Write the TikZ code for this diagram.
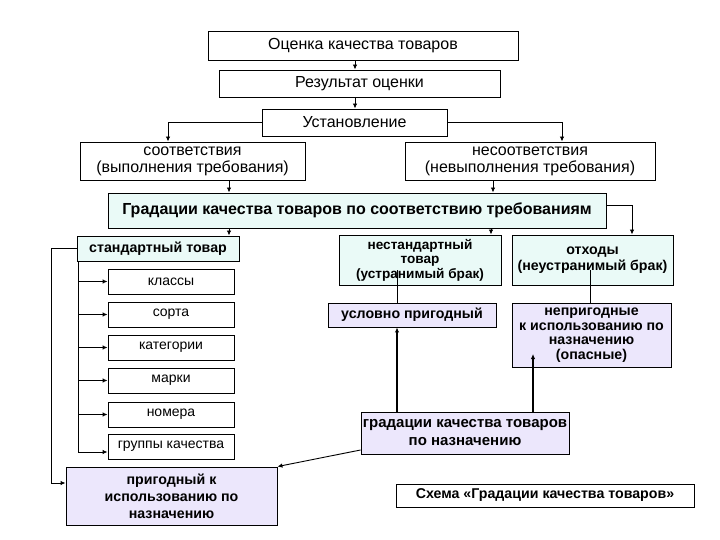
\documentclass[tikz,border=0pt]{standalone}
\usepackage{fontspec}
\setmainfont{Liberation Sans}
\usetikzlibrary{arrows.meta}
\definecolor{cyanfill}{RGB}{234,250,247}
\definecolor{lavfill}{RGB}{236,231,252}
\begin{document}
\begin{tikzpicture}[x=1pt,y=-1pt,
  box/.style={draw=black, line width=0.9pt, inner sep=1pt, align=center,
    font=\fontsize{16}{17}\selectfont},
  sbox/.style={box, font=\fontsize{14}{15}\selectfont},
  cbox/.style={box, fill=cyanfill, font=\fontsize{14.2}{15}\selectfont\bfseries},
  lbox/.style={box, fill=lavfill, font=\fontsize{14.2}{15}\selectfont\bfseries},
  sz/.style 2 args={minimum width=#1pt, minimum height=#2pt},
  arr/.style={line width=0.9pt, -{Latex[length=5pt,width=4.5pt]}},
  thk/.style={line width=1.5pt, -{Latex[length=5pt,width=4.5pt]}},
  ln/.style={line width=0.8pt}]
\useasboundingbox (0,0) rectangle (720,540);
% top chain
\node[box, sz={310}{29}] (ocenka) at (363,45.5) {Оценка качества товаров};
\node[box, sz={281}{27}] (rezult) at (359.5,83.5) {Результат оценки};
\node[box, sz={185}{27}] (ustan) at (354.5,122.5) {Установление};
\node[box, sz={225}{38}] (sootv) at (192.5,161) {соответствия\\(выполнения требования)};
\node[box, sz={250}{38}] (nesootv) at (530,161) {несоответствия\\(невыполнения требования)};
\node[cbox, sz={498}{35}, font=\fontsize{16}{17}\selectfont\bfseries] (grad) at (357,210.5) {Градации качества товаров по соответствию требованиям};
% standard branch
\node[cbox, sz={162}{25}] (std) at (158,248.5) {стандартный товар};
\node[sbox, sz={126}{25}] (klassy) at (171,281.5) {классы};
\node[sbox, sz={126}{25}] (sorta) at (171,314.5) {сорта};
\node[sbox, sz={126}{25}] (kateg) at (171,347.5) {категории};
\node[sbox, sz={126}{25}] (marki) at (171,380.5) {марки};
\node[sbox, sz={126}{25}] (nomera) at (171,414.5) {номера};
\node[sbox, sz={126}{25}] (gruppy) at (171,446.5) {группы качества};
\node[lbox, sz={211}{58}, font=\fontsize{14.2}{17}\selectfont\bfseries] (prigod) at (171.5,496) {пригодный к\\использованию по\\назначению};
% right branches
\node[cbox, sz={162}{50}, font=\fontsize{13.6}{14.5}\selectfont\bfseries] (nonstd) at (420,260) {нестандартный\\товар\\(устранимый брак)};
\node[cbox, sz={161}{50}, font=\fontsize{14.2}{16}\selectfont\bfseries] (othody) at (592.5,260) {отходы\\(неустранимый брак)};
\node[lbox, sz={168}{24}] (uslovno) at (412,315) {условно пригодный};
\node[lbox, sz={159}{64}, font=\fontsize{14.2}{14.5}\selectfont\bfseries] (neprig) at (591.5,335) {непригодные\\к использованию по\\назначению\\(опасные)};
\node[lbox, sz={208}{42}, font=\fontsize{15}{18}\selectfont\bfseries] (gradnaz) at (465,433) {градации качества товаров\\по назначению};
\node[box, sz={298}{23}, font=\fontsize{14.2}{15}\selectfont\bfseries] (schema) at (545,495.5) {Схема «Градации качества товаров»};
% connectors top
\draw[arr] (ocenka.south -| 355,0) -- (rezult.north -| 355,0);
\draw[arr] (rezult.south -| 355,0) -- (ustan.north -| 355,0);
\draw[arr] (ustan.west) -| (sootv.north -| 168,0);
\draw[arr] (ustan.east) -| (nesootv.north -| 562,0);
\draw[arr] (sootv.south -| 229,0) -- (grad.north -| 229,0);
\draw[arr] (nesootv.south -| 493,0) -- (grad.north -| 493,0);
\draw[arr] (grad.south -| 229,0) -- (std.north -| 229,0);
\draw[arr] (grad.south -| 491,0) -- (nonstd.north -| 491,0);
\draw[arr] (grad.east |- 0,205) -| (othody.north -| 632,0);
% bracket of standard goods
\coordinate (bk) at (78,0);
\draw[ln] (std.south -| bk) -- (78,452);
\foreach \n in {klassy,sorta,kateg,marki,nomera} \draw[arr] (\n.west -| bk) -- (\n.west);
\draw[arr] (78,452) -- (gruppy.west |- 0,452);
\draw[arr] (std.west) -- (51,248.5) |- (prigod.west |- 0,483);
% right side links
\draw[ln] (397,270) -- (uslovno.north -| 397,0);
\draw[ln] (590,270) -- (neprig.north -| 590,0);
\draw[thk] (gradnaz.north -| 397,0) -- (uslovno.south -| 397,0);
\draw[thk] (gradnaz.north -| 533,0) -- (533,354);
\draw[arr] (gradnaz.west |- 0,450) -- (prigod.north east);
\end{tikzpicture}
\end{document}
